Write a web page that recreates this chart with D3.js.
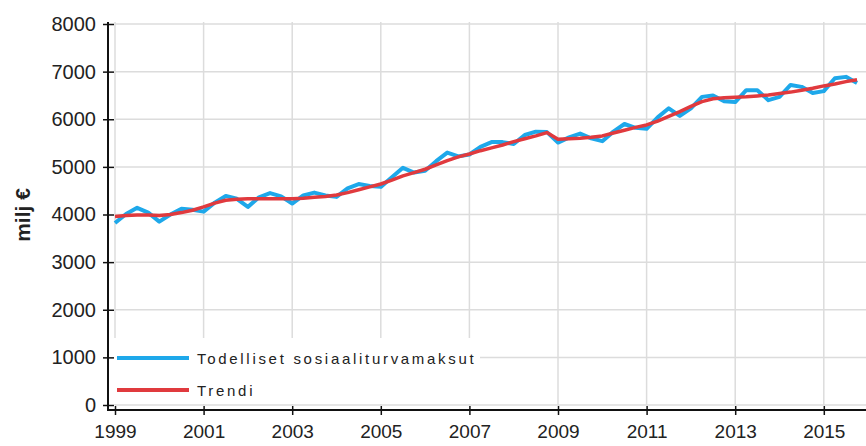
<!DOCTYPE html>
<html>
<head>
<meta charset="utf-8">
<script src="https://cdn.jsdelivr.net/npm/d3@7"></script>
<style>
  html, body { margin: 0; padding: 0; background: #fff; }
  svg { display: block; }
  text { font-family: "Liberation Sans", Arial, sans-serif; fill: #222; }
</style>
</head>
<body>
<svg id="chart" width="866" height="446"></svg>
<script>
// Quarterly data 1999Q1 .. 2015Q4 (milj €)
const startYear = 1999;
const actual = [
  3820, 4010, 4140, 4040,
  3850, 4000, 4120, 4100,
  4060, 4250, 4390, 4330,
  4160, 4360, 4450, 4380,
  4230, 4400, 4460, 4400,
  4370, 4550, 4640, 4600,
  4580, 4780, 4980, 4880,
  4920, 5120, 5300, 5220,
  5260, 5420, 5520, 5520,
  5480, 5670, 5740, 5730,
  5510, 5620, 5700, 5600,
  5540, 5740, 5900, 5820,
  5800, 6040, 6230, 6070,
  6230, 6470, 6500, 6380,
  6360, 6610, 6610, 6400,
  6470, 6720, 6680, 6550,
  6590, 6860, 6890, 6760
];
const trend = [
  3960, 3980, 3990, 3990,
  3980, 4000, 4040, 4090,
  4160, 4240, 4300, 4320,
  4330, 4330, 4330, 4330,
  4330, 4340, 4360, 4380,
  4410, 4460, 4520, 4580,
  4640, 4720, 4810, 4880,
  4950, 5040, 5130, 5210,
  5270, 5340, 5400, 5460,
  5530, 5590, 5650, 5720,
  5580, 5590, 5600, 5620,
  5650, 5710, 5770, 5830,
  5880, 5960, 6060, 6160,
  6270, 6370, 6430, 6450,
  6460, 6470, 6490, 6510,
  6540, 6570, 6610, 6650,
  6700, 6740, 6790, 6830
];
const xTicks = [1999, 2001, 2003, 2005, 2007, 2009, 2011, 2013, 2015];
const yTicks = [0, 1000, 2000, 3000, 4000, 5000, 6000, 7000, 8000];
const seriesNames = ["Todelliset sosiaaliturvamaksut", "Trendi"];
const yTitle = "milj €";

const svg = d3.select("#chart");
const x = d3.scaleLinear().domain([1999, 2016]).range([115, 115 + 17 * 44.3]);
const y = d3.scaleLinear().domain([0, 8000]).range([405, 24]);
const plotRight = 866;

// grid
const grid = svg.append("g").attr("stroke", "#dcdcdc").attr("stroke-width", 1.5);
grid.selectAll("line.h").data(yTicks).join("line")
  .attr("x1", x(1999)).attr("x2", plotRight)
  .attr("y1", d => y(d)).attr("y2", d => y(d));
grid.selectAll("line.v").data(xTicks).join("line")
  .attr("x1", d => x(d)).attr("x2", d => x(d))
  .attr("y1", 22).attr("y2", y(0));

// lines
const pts = arr => arr.map((v, i) => [startYear + i / 4, v]);
const line = d3.line().x(d => x(d[0])).y(d => y(d[1]));
svg.append("path").datum(pts(actual))
  .attr("fill", "none").attr("stroke", "#1ea8ea").attr("stroke-width", 4)
  .attr("stroke-linejoin", "round").attr("d", line);
svg.append("path").datum(pts(trend))
  .attr("fill", "none").attr("stroke", "#e03a3e").attr("stroke-width", 3.5)
  .attr("stroke-linejoin", "round").attr("d", line);

// legend
const lg = svg.append("g");
lg.append("rect").attr("x", 113).attr("y", 338).attr("width", 367).attr("height", 66).attr("fill", "#fff");
const lcolors = ["#1ea8ea", "#e03a3e"];
seriesNames.forEach((n, i) => {
  const ly = 358 + i * 32;
  lg.append("line").attr("x1", 117).attr("x2", 189).attr("y1", ly).attr("y2", ly)
    .attr("stroke", lcolors[i]).attr("stroke-width", 4);
  lg.append("text").attr("x", 197).attr("y", ly + 5.5)
    .style("font-size", "15px").style("letter-spacing", "2.7px").attr("fill", "#111").text(n);
});

// y axis
const yAxis = d3.axisLeft(y).tickValues(yTicks).tickSize(5).tickPadding(7).tickFormat(d3.format("d"));
const ya = svg.append("g").attr("transform", "translate(108,0)").call(yAxis);
ya.select(".domain").remove();
ya.append("line").attr("x1", 0).attr("x2", 0).attr("y1", 22).attr("y2", 411)
  .attr("stroke", "#111").attr("stroke-width", 2);
ya.selectAll(".tick line").attr("x1", -5).attr("x2", 6).attr("stroke", "#111").attr("stroke-width", 1.5);
ya.selectAll(".tick text").style("font-size", "20px").attr("fill", "#222");

// x axis
const xAxis = d3.axisBottom(x).tickValues(xTicks).tickSize(5).tickPadding(10).tickFormat(d3.format("d"));
const xa = svg.append("g").attr("transform", "translate(0,410)").call(xAxis);
xa.select(".domain").remove();
xa.append("line").attr("x1", 107).attr("x2", plotRight).attr("y1", 0).attr("y2", 0)
  .attr("stroke", "#111").attr("stroke-width", 2);
xa.selectAll(".tick line").attr("y1", -4).attr("y2", 5).attr("stroke", "#111").attr("stroke-width", 1.5);
xa.selectAll(".tick text").style("font-size", "19px").attr("fill", "#222");

// y title
svg.append("text").attr("transform", "translate(30,215) rotate(-90)")
  .attr("text-anchor", "middle").style("font-size", "21px").style("font-weight", "bold")
  .attr("fill", "#111").text(yTitle);
</script>
</body>
</html>
